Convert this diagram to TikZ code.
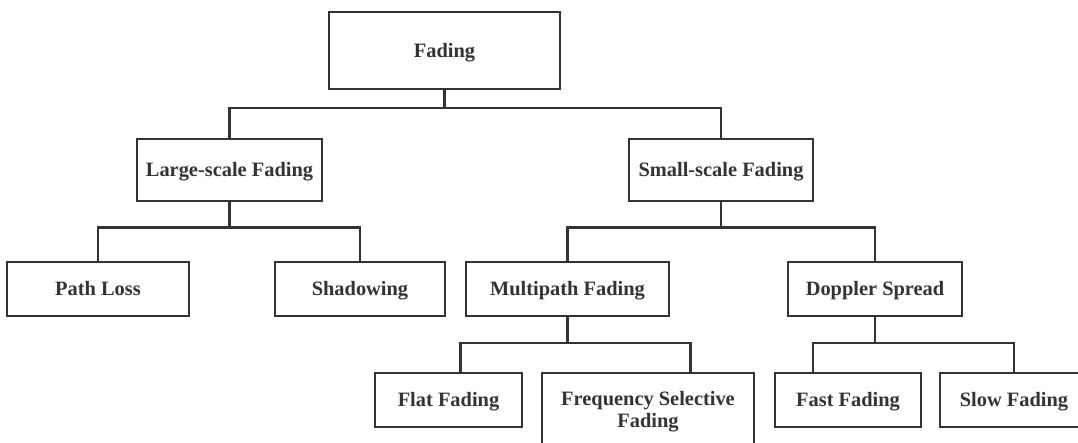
\documentclass[tikz,border=0pt]{standalone}
\usepackage{fontspec}
\setmainfont{Liberation Serif}
\definecolor{ink}{HTML}{333333}
\tikzset{
  box/.style={draw=ink, line width=2.6pt, inner sep=0pt, text=ink,
    font=\fontsize{20.4}{22}\selectfont\bfseries,
    text height=13.5pt, text depth=0pt},
  lbl/.style={inner sep=0pt, text=ink, font=\fontsize{20.4}{22}\selectfont\bfseries},
  link/.style={draw=ink, line width=2.6pt, line join=miter},
}
\begin{document}
\begin{tikzpicture}[x=1pt, y=-1pt]
  \useasboundingbox (0,0) rectangle (1078,442);
  \fill[white] (0,0) rectangle (1078,442);
  \clip (0,0) rectangle (1078,442);

  % level 0
  \node[box, minimum width=231, minimum height=77] (fading) at (444.5,50.5) {Fading};

  % level 1
  \node[box, minimum width=185, minimum height=62] (large) at (229.5,170) {Large-scale Fading};
  \node[box, minimum width=184, minimum height=62] (small) at (721,170) {Small-scale Fading};

  % level 2
  \node[box, minimum width=182, minimum height=54] (path)    at (98,289)    {Path Loss};
  \node[box, minimum width=170, minimum height=54] (shadow)  at (360,289)   {Shadowing};
  \node[box, minimum width=203, minimum height=54] (multi)   at (567.5,289) {Multipath Fading};
  \node[box, minimum width=174, minimum height=54] (doppler) at (875,289)   {Doppler Spread};

  % level 3
  \node[box, minimum width=147, minimum height=54] (flat) at (448.5,400) {Flat Fading};
  \node[box, minimum width=212, minimum height=92] (freq) at (648,419) {};
  \node[lbl, anchor=base] (freqA) at (648,405) {Frequency Selective};
  \node[lbl, anchor=base] (freqB) at (648,427) {Fading};
  \node[box, minimum width=146, minimum height=54] (fast) at (848,400) {Fast Fading};
  \node[box, minimum width=148, minimum height=54] (slow) at (1014,400) {Slow Fading};

  % junction points of the tree
  \coordinate (j1) at (444.5,108);
  \coordinate (j2) at (229.5,227.5);
  \coordinate (j3) at (721,227.5);
  \coordinate (j4) at (567.5,343);
  \coordinate (j5) at (875,343);
  \coordinate (fl) at (460.7,343);
  \coordinate (fr) at (690.5,343);
  \coordinate (fa) at (813,343);
  \coordinate (sl) at (1014,343);

  % connectors
  \draw[link] (fading.south) -- (j1);
  \draw[link] (large.north) |- (j1) -| (small.north);

  \draw[link] (large.south) -- (j2);
  \draw[link] (path.north) |- (j2) -| (shadow.north);

  \draw[link] (small.south) -- (j3);
  \draw[link] (multi.north) |- (j3) -| (doppler.north);

  \draw[link] (multi.south) -- (j4);
  \draw[link] (fl |- flat.north) -- (fl) -- (fr) -- (fr |- freq.north);

  \draw[link] (doppler.south) -- (j5);
  \draw[link] (fa |- fast.north) -- (fa) -- (sl) -- (slow.north);
\end{tikzpicture}
\end{document}
